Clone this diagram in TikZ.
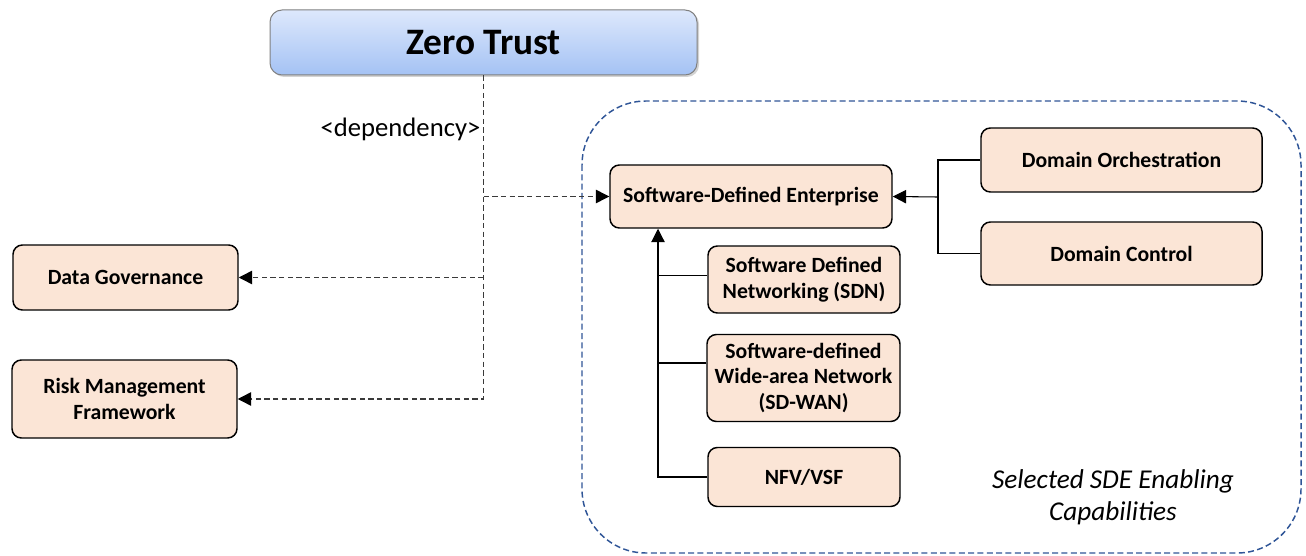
\documentclass[tikz,border=0pt]{standalone}
\usepackage{fontspec}
\setmainfont{Carlito}
\usepackage{xcolor}
\usetikzlibrary{arrows.meta, shadows, positioning, calc}
\definecolor{boxfill}{HTML}{FBE5D6}
\definecolor{ztop}{HTML}{DDE8FC}
\definecolor{zbot}{HTML}{A4C2F4}
\definecolor{sdeblue}{HTML}{2F5597}
\definecolor{depgray}{HTML}{3A3A3A}

\begin{document}
\begin{tikzpicture}[x=0.75pt, y=-0.75pt,
    capbox/.style={draw=black, line width=1.1pt, fill=boxfill, rounded corners=7pt,
        align=center, inner sep=2pt, font=\bfseries\fontsize{16.3}{19.3}\selectfont},
    dep/.style={draw=depgray, line width=1.05pt, dash pattern=on 4pt off 2.5pt,
        -{Triangle[length=10pt, width=10pt, fill=black, color=black]}},
    link/.style={draw=black, line width=0.8pt},
    linkarr/.style={link, -{Triangle[length=10pt, width=10pt]}}]
    \useasboundingbox (0,0) rectangle (1306,556);

    % Draw the container of the enabling capabilities
    \draw[sdeblue, line width=1.1pt, dash pattern=on 4.5pt off 2.5pt, rounded corners=48pt]
        (582,101) rectangle (1301,553);
    \node[font=\itshape\fontsize{20.4}{24}\selectfont, align=center] (caption) at (1113,497)
        {Selected SDE Enabling\\Capabilities};

    % Draw the top node
    \node[draw=gray, line width=0.75pt, rounded corners=9pt, top color=ztop, bottom color=zbot,
        drop shadow={shadow xshift=1.5pt, shadow yshift=-1.5pt, opacity=0.35},
        minimum width=427*0.75pt, minimum height=65*0.75pt,
        font=\bfseries\fontsize{28}{32}\selectfont] (zt) at (483.5,42.5) {Zero Trust};

    % Draw the boxes
    \node[capbox, minimum width=225*0.75pt, minimum height=65*0.75pt] (dg) at (125.5,277.5) {Data Governance};
    \node[capbox, minimum width=225*0.75pt, minimum height=78*0.75pt] (rmf) at (124.5,399) {Risk Management\\Framework};
    \node[capbox, minimum width=282*0.75pt, minimum height=63*0.75pt] (sde) at (751,196.5) {Software-Defined Enterprise};
    \node[capbox, minimum width=281*0.75pt, minimum height=64*0.75pt] (dorch) at (1121.5,160) {Domain Orchestration};
    \node[capbox, minimum width=281*0.75pt, minimum height=63*0.75pt] (dctl) at (1121.5,253.5) {Domain Control};
    \node[capbox, minimum width=192*0.75pt, minimum height=67*0.75pt] (sdn) at (804,279.5) {Software Defined\\Networking (SDN)};
    \node[capbox, minimum width=193*0.75pt, minimum height=87*0.75pt] (wan) at (803.5,378) {Software-defined\\Wide-area Network\\(SD-WAN)};
    \node[capbox, minimum width=192*0.75pt, minimum height=59*0.75pt] (nfv) at (804,477) {NFV/VSF};

    % Draw the dependency lines
    \draw[dep] (zt.south) |- (rmf.east);
    \draw[dep] (zt.south |- dg.east) -- (dg.east);
    \draw[dep] (zt.south |- sde.west) -- (sde.west);
    \node[anchor=east, font=\fontsize{20}{24}\selectfont, inner sep=1pt] (deplbl) at (482,129) {<dependency>};

    % Draw the domain links
    \coordinate (dj) at (938,197);
    \draw[link] (dorch.west) -| (dj) |- (dctl.west);
    \draw[linkarr] (dj) -- (sde.east);

    % Draw the capability links
    \coordinate (lj) at (658,478);
    \draw[linkarr] (nfv.west) -| (sde.south -| lj);
    \draw[link] ($(sdn.west)+(0,-4)$) -- ($(sdn.west -| lj)+(0,-4)$);
    \draw[link] ($(wan.west)+(0,-15)$) -- ($(wan.west -| lj)+(0,-15)$);
\end{tikzpicture}
\end{document}
